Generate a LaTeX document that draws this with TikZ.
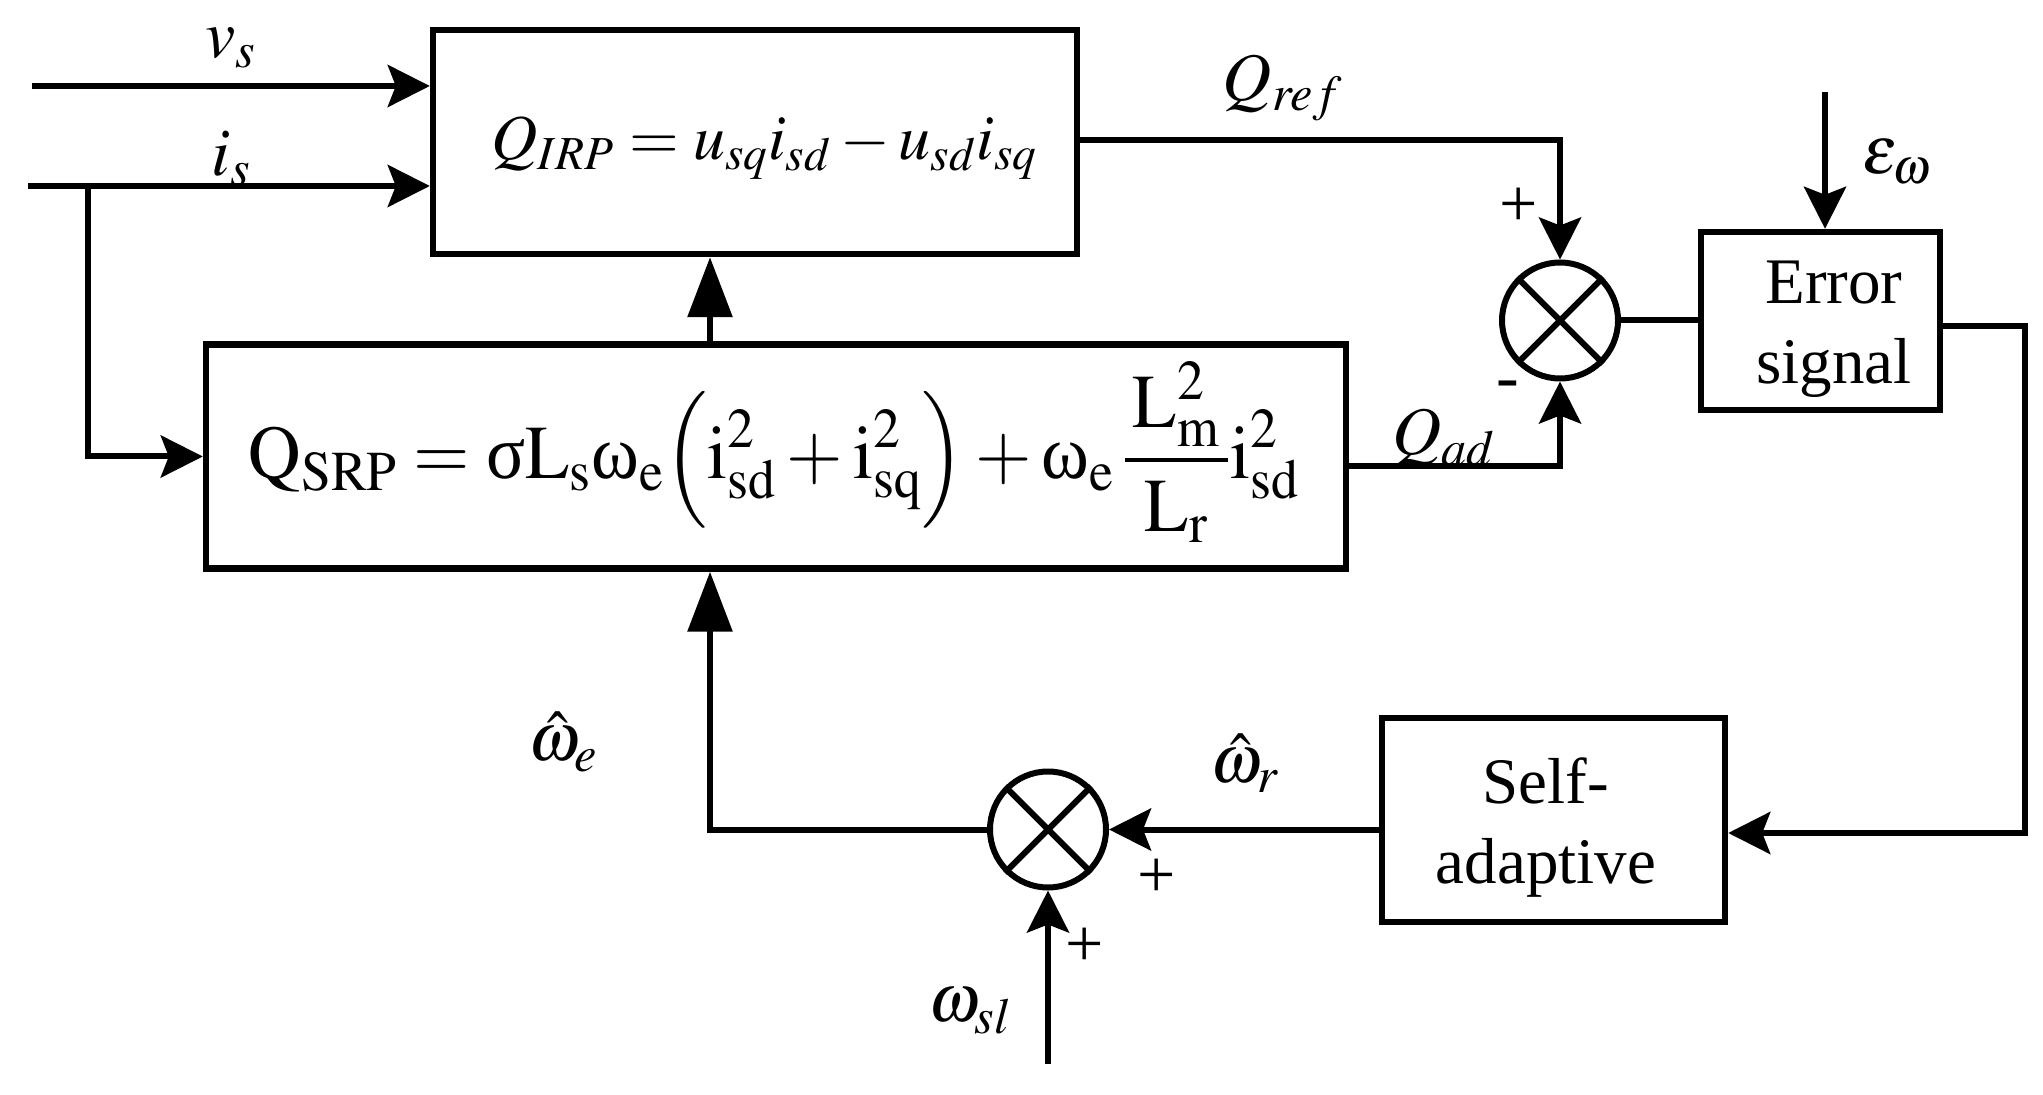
\documentclass[tikz,border=0pt]{standalone}
\usepackage{graphicx}
\usepackage{mathptmx}
\usepackage{fontspec}
\setmainfont{Liberation Serif}
\usetikzlibrary{arrows.meta,calc}
\begin{document}
\begin{tikzpicture}[x=0.5pt,y=-0.5pt,
  box/.style={draw,line width=3.2pt,rectangle,inner sep=0pt},
  summ/.style={draw,line width=3pt,circle,minimum size=58pt,inner sep=0pt},
  wire/.style={line width=3pt},
  sarr/.style={wire,-{Stealth[length=21pt,width=21pt,inset=4pt]}},
  tarr/.style={wire,-{Triangle[length=30pt,width=22pt]}},
  lbl/.style={inner sep=0pt,font=\fontsize{34}{40}\selectfont},
  txt/.style={inner sep=0pt,align=center,font=\fontsize{32.5}{40}\selectfont}]
\useasboundingbox (0,0) rectangle (2043,1095);
% blocks
\node[box,minimum width=322pt,minimum height=112pt] (irp) at (755,142) {};
\node[inner sep=0pt,anchor=base,font=\fontsize{32}{40}\selectfont] (irptxt) at (764.5,160) {$Q_{IRP}=u_{sq}i_{sd}-u_{sd}i_{sq}$};
\node[box,minimum width=570pt,minimum height=112pt] (srp) at (776,456.5) {};
\node[inner sep=0pt,anchor=base,font=\fontsize{38}{44}\selectfont] (srptxt) at (774,479) {\scalebox{0.955}[1]{$\displaystyle\mathrm{Q}_{\mathrm{SRP}}=\mbox{σ}\mathrm{L}_{\mathrm{s}}\mbox{ω}_{\mathrm{e}}\Bigl(\mathrm{i}_{\mathrm{sd}}^{2}+\mathrm{i}_{\mathrm{sq}}^{2}\Bigr)+\mbox{ω}_{\mathrm{e}}\,\frac{\,\mathrm{L}_{\mathrm{m}}^{2}\,}{\mathrm{L}_{\mathrm{r}}}\mathrm{i}_{\mathrm{sd}}^{2}$}};
\node[box,minimum width=119.5pt,minimum height=89pt] (err) at (1820.5,321) {};
\node[txt] (errtxt) at (1834,329) {Error\\signal};
\node[box,minimum width=171.5pt,minimum height=102pt] (self) at (1553.5,820) {};
\node[txt] (selftxt) at (1546,828) {Self-\\adaptive};
\node[summ] (s1) at (1560,320.5) {};
\node[summ] (s2) at (1048,829.5) {};
\draw[wire] (s1.45) -- (s1.225) (s1.135) -- (s1.315);
\draw[wire] (s2.45) -- (s2.225) (s2.135) -- (s2.315);
% coordinates
\coordinate (vs0) at (32,86);
\coordinate (is0) at (28,186);
\coordinate (br) at (88,186);
\coordinate (we) at (710,829.5);
\coordinate (eps0) at (1825,92);
\coordinate (fb) at (2025,833);
\coordinate (wsl) at (1048,1064);
% connectors
\draw[sarr] (vs0) -- (vs0 -| irp.west);
\draw[sarr] (is0) -- (is0 -| irp.west);
\draw[sarr] (br) -- (br |- srp.west) -- (srp.west);
\draw[tarr] (we |- srp.north) -- (we |- irp.south);
\draw[sarr] ([yshift=1pt]irp.east) -| (s1.north);
\draw[sarr] ([yshift=-4.75pt]srp.east) -| (s1.south);
\draw[wire] (s1.east) -- (s1.east -| err.west);
\draw[sarr] (eps0) -- (eps0 |- err.north);
\draw[sarr] ([yshift=-2.5pt]err.east) -| (fb) -- (fb -| self.east);
\draw[sarr] (self.west |- s2.east) -- (s2.east);
\draw[tarr] (s2.west) -- (we) -- (we |- srp.south);
\draw[sarr] (wsl) -- (s2.south);
% labels
\node[lbl] (lvs) at (231,48) {$v_s$};
\node[lbl] (lis) at (231,159) {$i_s$};
\node[lbl] (lqref) at (1283,88) {$Q_{ref}$};
\node[lbl] (lqad) at (1444,438) {$Q_{ad}$};
\node[lbl] (leps) at (1897,162) {$\varepsilon_{\omega}$};
\node[lbl] (lwe) at (563,742) {$\hat{\omega}_e$};
\node[lbl] (lwr) at (1245,763) {$\hat{\omega}_r$};
\node[lbl] (lwsl) at (970,1011) {$\omega_{sl}$};
\node[lbl] (p1) at (1519,207) {+};
\node[lbl] (m1) at (1508,390) {-};
\node[lbl] (p2) at (1157,878) {+};
\node[lbl] (p3) at (1085,947) {+};
\end{tikzpicture}
\end{document}
